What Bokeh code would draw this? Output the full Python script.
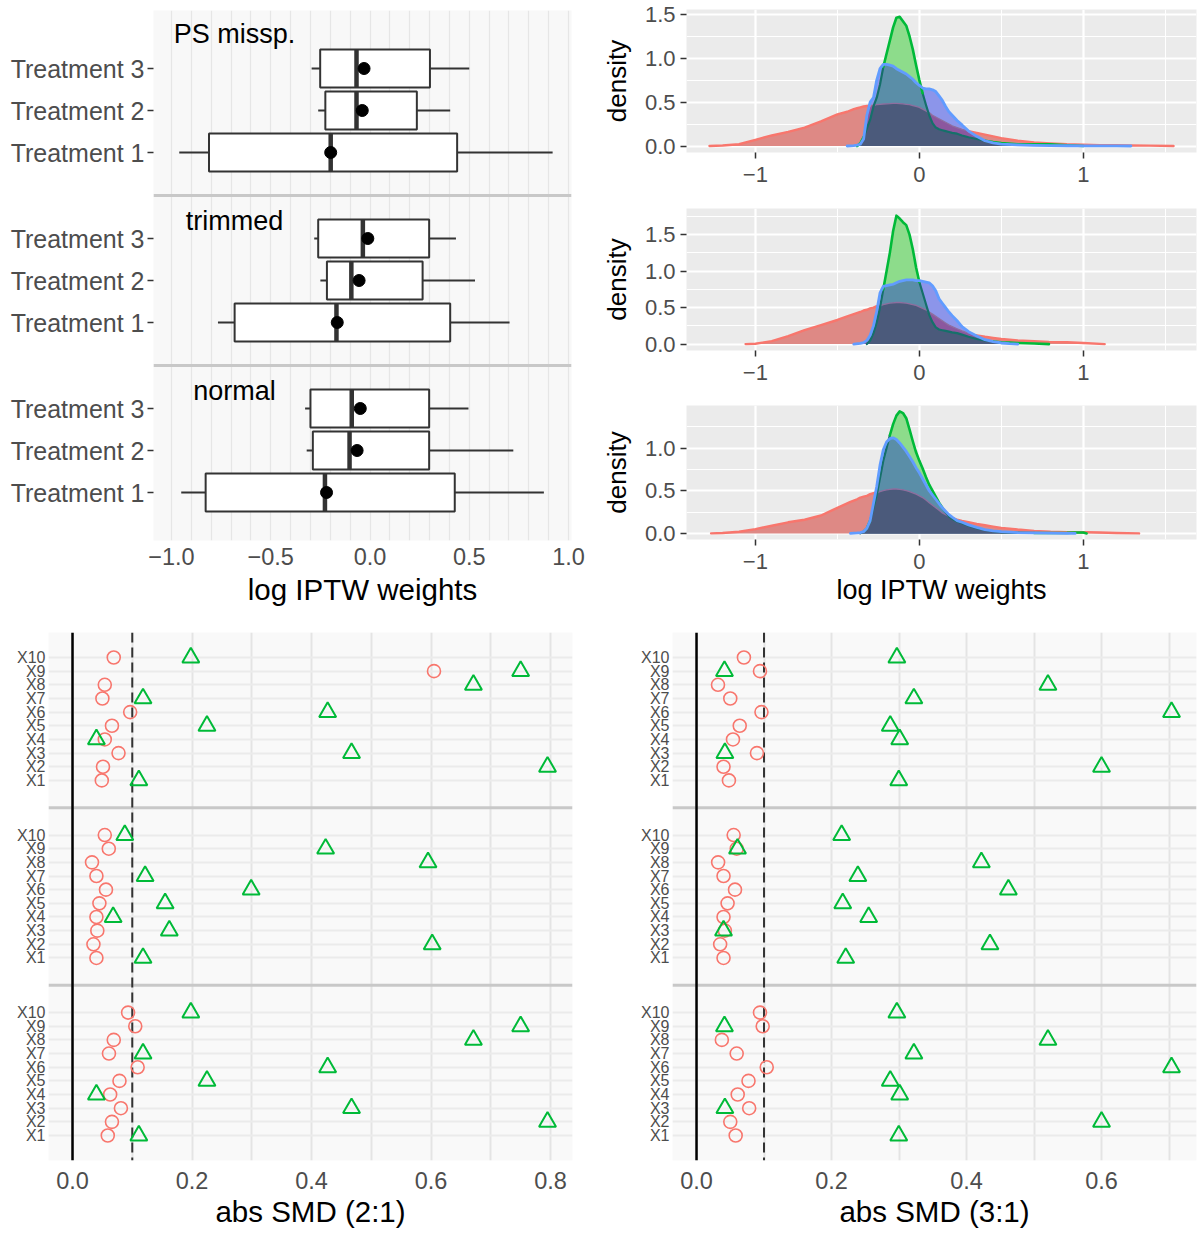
import numpy as np
from bokeh.plotting import figure
from bokeh.layouts import row, column
from bokeh.models import FixedTicker, Range1d, Span, ColumnDataSource
from bokeh.core.properties import value
from bokeh.embed import file_html
from bokeh.resources import INLINE

FONT = "Liberation Sans"
GREY_TXT = "#4D4D4D"
RED, GREEN, BLUE = "#F8766D", "#00BA38", "#619CFF"

# ---------------- boxplot data (log IPTW weights) ----------------
SCENARIOS = ["PS missp.", "trimmed", "normal"]
TREATMENTS = ["Treatment 1", "Treatment 2", "Treatment 3"]
# order: scenario (PS missp., trimmed, normal) x treatment (1, 2, 3)
BOX_LO   = [-0.961, -0.261, -0.294,  -0.766, -0.250, -0.281,  -0.951, -0.319, -0.327]
BOX_Q1   = [-0.811, -0.225, -0.251,  -0.682, -0.217, -0.261,  -0.828, -0.288, -0.300]
BOX_MED  = [-0.198, -0.068, -0.068,  -0.169, -0.094, -0.036,  -0.227, -0.103, -0.092]
BOX_MEAN = [-0.198, -0.039, -0.030,  -0.165, -0.055, -0.011,  -0.219, -0.065, -0.049]
BOX_Q3   = [ 0.439,  0.236,  0.302,   0.404,  0.265,  0.298,   0.427,  0.298,  0.298]
BOX_HI   = [ 0.920,  0.404,  0.500,   0.703,  0.529,  0.433,   0.876,  0.722,  0.496]
LOG_TICKS = [-1.0, -0.5, 0.0, 0.5, 1.0]
LOG_LABELS = ["\u22121.0", "\u22120.5", "0.0", "0.5", "1.0"]

# ---------------- density data (red = Treatment 1, green = 2, blue = 3) ----------------
D1_X = [-1.28, -1.2, -1.1, -1.0, -0.9, -0.8, -0.7, -0.6, -0.5, -0.44, -0.40, -0.38, -0.36, -0.34,
        -0.32, -0.30, -0.28, -0.26, -0.24, -0.22, -0.20, -0.18, -0.16, -0.14, -0.12, -0.10, -0.08,
        -0.06, -0.04, -0.02, 0.0, 0.02, 0.04, 0.06, 0.08, 0.10, 0.12, 0.14, 0.16, 0.18, 0.20, 0.23,
        0.26, 0.30, 0.35, 0.40, 0.45, 0.50, 0.60, 0.70, 0.80, 0.90, 1.0, 1.1, 1.2, 1.29, 1.4, 1.55]
D1_RED = [0, 0.005, 0.02, 0.07, 0.12, 0.16, 0.21, 0.28, 0.36, 0.39, 0.42, 0.43, 0.44, 0.45, 0.455,
          0.46, 0.465, 0.47, 0.475, 0.478, 0.48, 0.482, 0.485, 0.485, 0.483, 0.48, 0.475, 0.47, 0.46,
          0.45, 0.44, 0.42, 0.40, 0.38, 0.35, 0.33, 0.31, 0.29, 0.27, 0.25, 0.23, 0.21, 0.19, 0.17,
          0.15, 0.13, 0.11, 0.09, 0.06, 0.04, 0.03, 0.02, 0.015, 0.01, 0.008, 0.006, 0.004, 0]
D1_GREEN = [None] * 11 + [0, 0.03, 0.1, 0.2, 0.3, 0.45, 0.55, 0.7, 0.9, 1.05, 1.2, 1.35, 1.46, 1.47,
            1.42, 1.37, 1.25, 1.1, 0.92, 0.75, 0.6, 0.47, 0.35, 0.26, 0.21, 0.19, 0.18, 0.17, 0.16,
            0.15, 0.14, 0.12, 0.1, 0.08, 0.06, 0.045, 0.035, 0.02, 0.02, 0.02, 0.008, 0] + [None] * 5
D1_BLUE = [None] * 9 + [0, 0.005, 0.01, 0.02, 0.08, 0.35, 0.5, 0.55, 0.75, 0.88, 0.93, 0.93, 0.92,
           0.91, 0.88, 0.86, 0.84, 0.82, 0.79, 0.76, 0.72, 0.69, 0.66, 0.65, 0.65, 0.64, 0.62, 0.57,
           0.52, 0.45, 0.39, 0.35, 0.29, 0.24, 0.17, 0.11, 0.06, 0.035, 0.022, 0.012, 0.006, 0.004,
           0.003, 0.002, 0.001, 0.001, 0] + [None] * 2

D2_X = [-1.06, -1.0, -0.9, -0.8, -0.7, -0.6, -0.5, -0.44, -0.40, -0.36, -0.34, -0.32, -0.30, -0.28,
        -0.26, -0.24, -0.22, -0.20, -0.18, -0.16, -0.14, -0.12, -0.10, -0.08, -0.06, -0.04, -0.02,
        0.0, 0.02, 0.04, 0.06, 0.08, 0.10, 0.12, 0.14, 0.16, 0.18, 0.20, 0.23, 0.26, 0.30, 0.35,
        0.40, 0.45, 0.50, 0.55, 0.60, 0.70, 0.79, 0.9, 1.0, 1.13]
D2_RED = [0, 0.005, 0.04, 0.11, 0.19, 0.26, 0.33, 0.38, 0.41, 0.44, 0.46, 0.47, 0.49, 0.5, 0.52,
          0.53, 0.54, 0.55, 0.56, 0.565, 0.57, 0.57, 0.565, 0.56, 0.55, 0.54, 0.53, 0.51, 0.49, 0.47,
          0.44, 0.41, 0.38, 0.35, 0.32, 0.29, 0.26, 0.24, 0.21, 0.18, 0.15, 0.12, 0.10, 0.085, 0.07,
          0.06, 0.05, 0.04, 0.03, 0.025, 0.015, 0]
D2_GREEN = [None] * 11 + [0, 0.05, 0.15, 0.3, 0.5, 0.75, 1.0, 1.25, 1.55, 1.76, 1.72, 1.67, 1.63,
            1.5, 1.3, 1.05, 0.85, 0.7, 0.55, 0.4, 0.3, 0.23, 0.2, 0.19, 0.18, 0.17, 0.16, 0.15, 0.13,
            0.1, 0.07, 0.05, 0.035, 0.025, 0.02, 0.015, 0.008, 0] + [None] * 3
D2_BLUE = [None] * 8 + [0, 0.01, 0.02, 0.05, 0.12, 0.25, 0.45, 0.7, 0.79, 0.8, 0.81, 0.82, 0.84,
           0.86, 0.87, 0.88, 0.88, 0.88, 0.87, 0.87, 0.86, 0.85, 0.84, 0.8, 0.73, 0.62, 0.56, 0.5,
           0.44, 0.39, 0.32, 0.24, 0.17, 0.11, 0.06, 0.035, 0.015, 0.005, 0] + [None] * 5

D3_X = [-1.27, -1.2, -1.1, -1.0, -0.9, -0.8, -0.7, -0.6, -0.5, -0.42, -0.38, -0.36, -0.34, -0.32,
        -0.30, -0.28, -0.26, -0.24, -0.22, -0.20, -0.18, -0.16, -0.14, -0.12, -0.10, -0.08, -0.06,
        -0.04, -0.02, 0.0, 0.02, 0.04, 0.06, 0.08, 0.10, 0.12, 0.14, 0.16, 0.18, 0.20, 0.23, 0.26,
        0.30, 0.35, 0.40, 0.45, 0.50, 0.60, 0.70, 0.80, 0.90, 0.95, 1.0, 1.02, 1.1, 1.2, 1.34]
D3_RED = [0, 0.005, 0.02, 0.05, 0.09, 0.13, 0.16, 0.21, 0.3, 0.37, 0.4, 0.42, 0.43, 0.44, 0.46,
          0.47, 0.48, 0.49, 0.5, 0.51, 0.515, 0.52, 0.52, 0.515, 0.51, 0.5, 0.49, 0.475, 0.46, 0.44,
          0.42, 0.39, 0.36, 0.33, 0.3, 0.27, 0.24, 0.22, 0.2, 0.18, 0.16, 0.145, 0.13, 0.11, 0.095,
          0.08, 0.065, 0.045, 0.03, 0.02, 0.015, 0.015, 0.015, 0.015, 0.01, 0.005, 0]
D3_GREEN = [None] * 11 + [0, 0.02, 0.06, 0.15, 0.3, 0.45, 0.65, 0.85, 1.0, 1.15, 1.28, 1.38, 1.43,
            1.41, 1.35, 1.22, 1.08, 0.95, 0.85, 0.76, 0.66, 0.57, 0.5, 0.43, 0.36, 0.3, 0.25, 0.2,
            0.17, 0.14, 0.12, 0.09, 0.06, 0.04, 0.025, 0.015, 0.008, 0.005, 0.004, 0.006, 0.01,
            0.01, 0] + [None] * 3
D3_BLUE = [None] * 9 + [0, 0.005, 0.01, 0.02, 0.06, 0.15, 0.35, 0.55, 0.8, 0.98, 1.07, 1.11, 1.12,
           1.1, 1.06, 1.01, 0.96, 0.9, 0.84, 0.77, 0.71, 0.64, 0.57, 0.5, 0.45, 0.4, 0.35, 0.3,
           0.26, 0.22, 0.19, 0.15, 0.13, 0.1, 0.07, 0.045, 0.03, 0.02, 0.01, 0.005, 0.003, 0.001,
           0] + [None] * 5

# ---------------- abs SMD data (X1 ... X10), panels top / middle / bottom ----------------
SMD_VARS = ["X1", "X2", "X3", "X4", "X5", "X6", "X7", "X8", "X9", "X10"]
SMD21_CIRC_1 = [0.049, 0.051, 0.077, 0.054, 0.066, 0.0965, 0.050, 0.054, 0.605, 0.069]
SMD21_TRI_1  = [0.111, 0.795, 0.467, 0.040, 0.225, 0.427, 0.118, 0.671, 0.750, 0.198]
SMD21_CIRC_2 = [0.040, 0.035, 0.0415, 0.040, 0.045, 0.056, 0.040, 0.0326, 0.0607, 0.054]
SMD21_TRI_2  = [0.118, 0.602, 0.162, 0.068, 0.155, 0.299, 0.1215, 0.595, 0.4236, 0.0875]
SMD21_CIRC_3 = [0.059, 0.066, 0.081, 0.063, 0.0786, 0.109, 0.061, 0.069, 0.105, 0.093]
SMD21_TRI_3  = [0.111, 0.795, 0.467, 0.040, 0.225, 0.427, 0.118, 0.671, 0.750, 0.198]

SMD31_CIRC_1 = [0.048, 0.040, 0.0895, 0.054, 0.064, 0.0962, 0.050, 0.0318, 0.094, 0.0702]
SMD31_TRI_1  = [0.2996, 0.600, 0.042, 0.301, 0.287, 0.7037, 0.322, 0.5206, 0.0414, 0.2968]
SMD31_CIRC_2 = [0.040, 0.035, 0.042, 0.040, 0.046, 0.057, 0.040, 0.032, 0.0595, 0.055]
SMD31_TRI_2  = [0.221, 0.4347, 0.040, 0.255, 0.2166, 0.462, 0.239, 0.422, 0.0607, 0.215]
SMD31_CIRC_3 = [0.058, 0.050, 0.078, 0.061, 0.077, 0.104, 0.0595, 0.0375, 0.098, 0.094]
SMD31_TRI_3  = [0.2996, 0.600, 0.042, 0.301, 0.287, 0.7037, 0.322, 0.5206, 0.0414, 0.2968]

SMD21_TICKS = [0.0, 0.2, 0.4, 0.6, 0.8]
SMD31_TICKS = [0.0, 0.2, 0.4, 0.6]
SMD_THRESHOLD = 0.1

# ---------------- helpers ----------------
def base_fig(width, height, xr, yr, lb, rb, tb, bb):
    p = figure(width=width, height=height, x_range=Range1d(*xr), y_range=Range1d(*yr),
               output_backend="svg", toolbar_location=None,
               min_border_left=lb, min_border_right=rb, min_border_top=tb, min_border_bottom=bb)
    p.outline_line_color = None
    p.border_fill_color = "white"
    for ax in (p.xaxis[0], p.yaxis[0]):
        ax.axis_line_color = None
        ax.major_tick_out = 0
        ax.major_tick_in = 0
        ax.minor_tick_out = 0
        ax.minor_tick_in = 0
        ax.major_tick_line_color = "#333333"
        ax.major_tick_line_width = 1.5
        ax.major_label_text_font = FONT
        ax.major_label_text_color = GREY_TXT
        ax.axis_label_text_font = FONT
        ax.axis_label_text_font_style = "normal"
        ax.axis_label_text_color = "black"
    return p


# ---------------- top-left: boxplots ----------------
ROW, PANEL = 42, 170
tl = base_fig(598, 615, (-1.0907, 1.0151), (-48, 482), 153, 27, 10, 75)
tl.background_fill_color = "#F8F8F8"
tl.ygrid.visible = False
tl.xgrid.ticker = FixedTicker(ticks=[round(-1.0 + 0.1 * i, 1) for i in range(21)])
tl.xgrid.grid_line_color = "#E6E6E6"
tl.xgrid.grid_line_width = 1.3
tl.xaxis.ticker = FixedTicker(ticks=LOG_TICKS)
tl.xaxis.major_label_overrides = dict(zip(LOG_TICKS, LOG_LABELS))
tl.xaxis.major_label_text_font_size = "23.5px"
tl.xaxis.major_label_standoff = 7
tl.xaxis.axis_label = "log IPTW weights"
tl.xaxis.axis_label_text_font_size = "29.5px"
tl.xaxis.axis_label_standoff = 5

ypos = [(2 - s) * PANEL + t * ROW for s in range(3) for t in range(3)]
ylab = [TREATMENTS[t] for s in range(3) for t in range(3)]
tl.yaxis.ticker = FixedTicker(ticks=ypos)
tl.yaxis.major_label_overrides = dict(zip(ypos, ylab))
tl.yaxis.major_label_text_font_size = "25px"
tl.yaxis.major_tick_out = 6
tl.yaxis.major_label_standoff = 3

for s in range(2):
    tl.add_layout(Span(location=(2 - s) * PANEL - 43, dimension="width",
                       line_color="#C8C8C8", line_width=3))

HALF = 19
bsrc = ColumnDataSource(dict(y=ypos, ylo=[v - HALF for v in ypos], yhi=[v + HALF for v in ypos],
                             lo=BOX_LO, q1=BOX_Q1, med=BOX_MED, mean=BOX_MEAN, q3=BOX_Q3, hi=BOX_HI))
tl.segment(x0="lo", y0="y", x1="q1", y1="y", source=bsrc, line_color="#333333", line_width=2)
tl.segment(x0="q3", y0="y", x1="hi", y1="y", source=bsrc, line_color="#333333", line_width=2)
tl.quad(left="q1", right="q3", bottom="ylo", top="yhi", source=bsrc,
        fill_color="white", line_color="#333333", line_width=2)
tl.segment(x0="med", y0="ylo", x1="med", y1="yhi", source=bsrc, line_color="#333333", line_width=4.5)
tl.scatter(x="mean", y="y", source=bsrc, size=12, color="black")

LABEL_OFFSET = [119, 102, 102]
tl.text(x=[-0.683] * 3, y=[(2 - s) * PANEL + LABEL_OFFSET[s] for s in range(3)], text=SCENARIOS,
        text_font=value(FONT), text_font_size="27px", text_align="center",
        text_baseline="middle", text_color="black")

# ---------------- top-right: densities ----------------
C_R, C_G, C_B = "#DE8985", "#8DDC8B", "#8C95EA"
C_RG, C_RB, C_GB, C_RGB = "#7E9062", "#8C579E", "#5A8EA8", "#4B5A7B"


def outline(p, xs, ys, flags, col_on, col_off, w_on, w_off):
    runs, cur = [], None
    for i in range(len(xs) - 1):
        if not (np.isfinite(ys[i]) and np.isfinite(ys[i + 1])):
            cur = None
            continue
        f = bool(flags[i])
        if cur is not None and cur["f"] == f:
            cur["x"].append(xs[i + 1]); cur["y"].append(ys[i + 1])
        else:
            cur = {"x": [xs[i], xs[i + 1]], "y": [ys[i], ys[i + 1]], "f": f}
            runs.append(cur)
    runs = [r for r in runs if not r["f"]] + [r for r in runs if r["f"]]
    if not runs:
        return
    p.multi_line(xs=[r["x"] for r in runs], ys=[r["y"] for r in runs],
                 line_color=[col_on if r["f"] else col_off for r in runs],
                 line_width=[w_on if r["f"] else w_off for r in runs],
                 line_join="round", line_cap="round")


def dens_fig(height, tb, bb, xs, red, green, blue, yr, yticks, yminor, title):
    p = base_fig(600, height, (-1.42, 1.69), yr, 82, 2, tb, bb)
    p.background_fill_color = "#EBEBEB"
    p.xgrid.ticker = FixedTicker(ticks=[-1, 0, 1], minor_ticks=[-1.5, -0.5, 0.5, 1.5])
    p.ygrid.ticker = FixedTicker(ticks=yticks, minor_ticks=yminor)
    for g in (p.xgrid[0], p.ygrid[0]):
        g.grid_line_color = "white"
        g.grid_line_width = 2.2
        g.minor_grid_line_color = "white"
        g.minor_grid_line_width = 1.1
    p.xaxis.ticker = FixedTicker(ticks=[-1, 0, 1])
    p.xaxis.major_label_overrides = {-1: "\u22121", 0: "0", 1: "1"}
    p.yaxis.ticker = FixedTicker(ticks=yticks)
    p.yaxis.major_label_overrides = {t: "%.1f" % t for t in yticks}
    for ax in (p.xaxis[0], p.yaxis[0]):
        ax.major_tick_out = 6
        ax.major_label_text_font_size = "22px"
    p.xaxis.major_label_standoff = 8
    p.yaxis.major_label_standoff = 5
    p.yaxis.axis_label = "density"
    p.yaxis.axis_label_text_font_size = "26px"
    p.yaxis.axis_label_standoff = 10
    if title:
        p.xaxis.axis_label = title
        p.xaxis.axis_label_text_font_size = "27px"
        p.xaxis.axis_label_standoff = 3

    x = np.asarray(xs, float)
    r = np.asarray(red, dtype=float)
    g = np.asarray(green, dtype=float)
    b = np.asarray(blue, dtype=float)
    R, G, B = np.nan_to_num(r), np.nan_to_num(g), np.nan_to_num(b)
    z = np.zeros_like(x)
    for top, col in [(R, C_R), (G, C_G), (B, C_B),
                     (np.minimum(R, G), C_RG), (np.minimum(R, B), C_RB), (np.minimum(G, B), C_GB),
                     (np.minimum(np.minimum(R, G), B), C_RGB)]:
        p.varea(x=x, y1=z, y2=top, fill_color=col)
    mid = lambda a: (a[:-1] + a[1:]) / 2
    Rm, Gm, Bm = mid(R), mid(G), mid(B)
    outline(p, x, r, Rm >= np.maximum(Gm, Bm) - 1e-9, RED, "#8E6E9E", 2.4, 1.3)
    outline(p, x, g, Gm >= Bm, GREEN, "#15706A", 2.6, 2.2)
    outline(p, x, b, np.ones(len(x) - 1, bool), BLUE, BLUE, 2.8, 2.8)
    return p


d1 = dens_fig(192, 9, 40, D1_X, D1_RED, D1_GREEN, D1_BLUE, (-0.074, 1.554),
              [0.0, 0.5, 1.0, 1.5], [0.25, 0.75, 1.25], None)
d2 = dens_fig(198, 16, 40, D2_X, D2_RED, D2_GREEN, D2_BLUE, (-0.088, 1.858),
              [0.0, 0.5, 1.0, 1.5], [0.25, 0.75, 1.25, 1.75], None)
d3 = dens_fig(225, 15, 76, D3_X, D3_RED, D3_GREEN, D3_BLUE, (-0.0715, 1.4985),
              [0.0, 0.5, 1.0], [0.25, 0.75, 1.25], "log IPTW weights")

# ---------------- bottom: abs SMD ----------------
PSTEP = 13


def smd_fig(width, lb, rb, xr, ticks, circs, tris, title):
    p = base_fig(width, 619, xr, (-1.83, 36.83), lb, rb, 17, 74)
    p.background_fill_color = "#F9F9F9"
    p.xgrid.ticker = FixedTicker(ticks=[round(0.1 * i, 1) for i in range(9)])
    p.xgrid.grid_line_color = "#E4E4E4"
    p.xgrid.grid_line_width = 2
    rows = [(2 - k) * PSTEP + i for k in range(3) for i in range(10)]
    p.ygrid.ticker = FixedTicker(ticks=rows)
    p.ygrid.grid_line_color = "#EBEBEB"
    p.ygrid.grid_line_width = 2
    p.yaxis.ticker = FixedTicker(ticks=rows)
    p.yaxis.major_label_overrides = {rv: SMD_VARS[j % 10] for j, rv in enumerate(rows)}
    p.yaxis.major_label_text_font_size = "16px"
    p.yaxis.major_label_standoff = 3
    p.xaxis.ticker = FixedTicker(ticks=ticks)
    p.xaxis.major_label_overrides = {t: "%.1f" % t for t in ticks}
    p.xaxis.major_label_text_font_size = "23.5px"
    p.xaxis.major_label_standoff = 11
    p.xaxis.axis_label = title
    p.xaxis.axis_label_text_font_size = "29.5px"
    p.xaxis.axis_label_standoff = 3
    for k in (1, 2):
        p.add_layout(Span(location=k * PSTEP - 2, dimension="width", line_color="#C8C8C8",
                          line_width=3, level="underlay"))
    p.add_layout(Span(location=0, dimension="height", line_color="black", line_width=2.5,
                      level="underlay"))
    p.add_layout(Span(location=SMD_THRESHOLD, dimension="height", line_color="#333333",
                      line_width=2, line_dash="10 5", level="underlay"))
    for k in range(3):
        ys = [(2 - k) * PSTEP + i for i in range(10)]
        p.scatter(x=circs[k], y=ys, marker="circle", size=13, fill_color=None,
                  line_color=RED, line_width=1.6)
        p.scatter(x=tris[k], y=ys, marker="triangle", size=17, fill_color=None,
                  line_color=GREEN, line_width=2)
    return p


bl = smd_fig(598, 48, 26, (-0.0402, 0.8368), SMD21_TICKS,
             [SMD21_CIRC_1, SMD21_CIRC_2, SMD21_CIRC_3], [SMD21_TRI_1, SMD21_TRI_2, SMD21_TRI_3],
             "abs SMD (2:1)")
br = smd_fig(600, 74, 2, (-0.0356, 0.7407), SMD31_TICKS,
             [SMD31_CIRC_1, SMD31_CIRC_2, SMD31_CIRC_3], [SMD31_TRI_1, SMD31_TRI_2, SMD31_TRI_3],
             "abs SMD (3:1)")

layout = column(row(tl, column(d1, d2, d3)), row(bl, br))
open("out.html", "w").write(file_html(layout, INLINE))
